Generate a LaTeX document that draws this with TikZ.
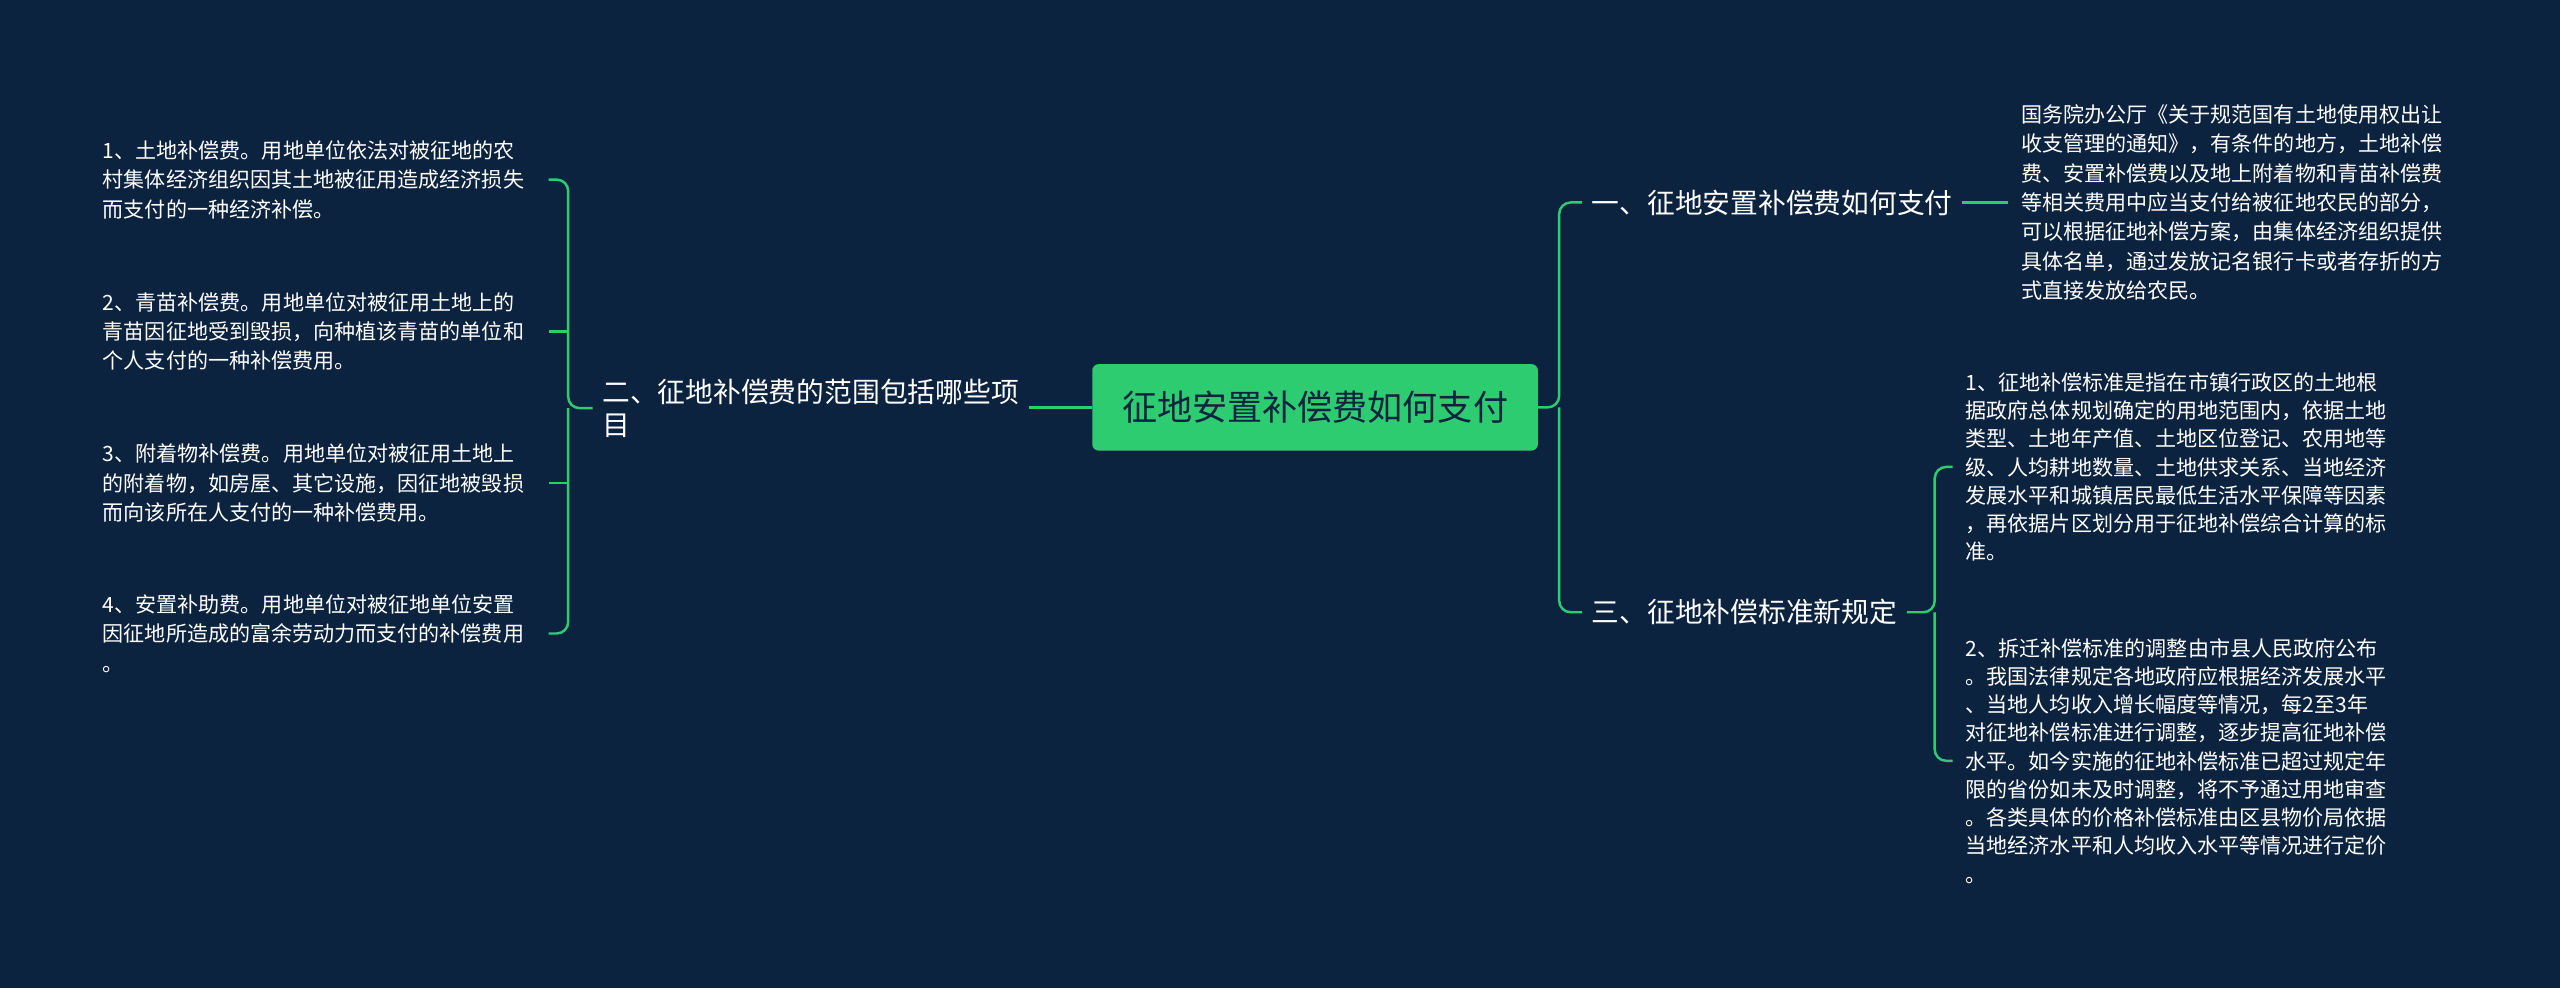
\documentclass[tikz,border=0pt]{standalone}
\usepackage{fontspec}
\setmainfont{Noto Sans CJK SC}
\begin{document}
\begin{tikzpicture}[x=1pt,y=-1pt,
  every node/.style={inner sep=0pt,outer sep=0pt},
  para/.style={text=white,align=left,font=\fontsize{12.9}{18}\selectfont},
  para3/.style={text=white,align=left,font=\fontsize{12.9}{17.3}\selectfont},
  branch/.style={text=white,align=left,inner xsep=6pt,font=\fontsize{17}{20}\selectfont}]
\definecolor{bg}{HTML}{0C2340}
\definecolor{gr}{HTML}{2ECC71}
\tikzset{link/.style={draw=gr,line width=1.5pt,rounded corners=7pt}}
\fill[bg] (0,0) rectangle (1568,605);
\useasboundingbox (0,0) rectangle (1568,605);
\node[fill=gr,rounded corners=4pt,minimum width=273,minimum height=53,text=bg,font=\fontsize{21.5}{24}\selectfont] (c) at (805.5,249.5) {征地安置补偿费如何支付};
\node[branch,anchor=west] (b1) at (969,124) {一、征地安置补偿费如何支付};
\node[branch,anchor=west] (b3) at (969,375) {三、征地补偿标准新规定};
\node[branch,anchor=west] (b2) at (363,250) {二、征地补偿费的范围包括哪些项\\目};
\node[para,anchor=west] (p1) at (1238,124) {国务院办公厅《关于规范国有土地使用权出让\\收支管理的通知》，有条件的地方，土地补偿\\费、安置补偿费以及地上附着物和青苗补偿费\\等相关费用中应当支付给被征地农民的部分，\\可以根据征地补偿方案，由集体经济组织提供\\具体名单，通过发放记名银行卡或者存折的方\\式直接发放给农民。};
\node[para3,anchor=west] (r1) at (1204,286) {1、征地补偿标准是指在市镇行政区的土地根\\据政府总体规划确定的用地范围内，依据土地\\类型、土地年产值、土地区位登记、农用地等\\级、人均耕地数量、土地供求关系、当地经济\\发展水平和城镇居民最低生活水平保障等因素\\，再依据片区划分用于征地补偿综合计算的标\\准。};
\node[para3,anchor=west] (r2) at (1204,466) {2、拆迁补偿标准的调整由市县人民政府公布\\。我国法律规定各地政府应根据经济发展水平\\、当地人均收入增长幅度等情况，每2至3年\\对征地补偿标准进行调整，逐步提高征地补偿\\水平。如今实施的征地补偿标准已超过规定年\\限的省份如未及时调整，将不予通过用地审查\\。各类具体的价格补偿标准由区县物价局依据\\当地经济水平和人均收入水平等情况进行定价\\。};
\node[para,anchor=west] (l1) at (63,110) {1、土地补偿费。用地单位依法对被征地的农\\村集体经济组织因其土地被征用造成经济损失\\而支付的一种经济补偿。};
\node[para,anchor=west] (l2) at (63,203) {2、青苗补偿费。用地单位对被征用土地上的\\青苗因征地受到毁损，向种植该青苗的单位和\\个人支付的一种补偿费用。};
\node[para,anchor=west] (l3) at (63,296) {3、附着物补偿费。用地单位对被征用土地上\\的附着物，如房屋、其它设施，因征地被毁损\\而向该所在人支付的一种补偿费用。};
\node[para,anchor=west] (l4) at (63,388) {4、安置补助费。用地单位对被征地单位安置\\因征地所造成的富余劳动力而支付的补偿费用\\。};
\coordinate (cr) at (955,249.5);
\draw[link] (c.east) -- (cr) -- (955,124) -- (b1.west);
\draw[link] (cr) -- (955,375) -- (b3.west);
\draw[link] (c.west) -- (b2.east |- c.west);
\draw[link] (b1.east) -- (1230,124);
\coordinate (rb) at (1185,375);
\draw[link] (b3.east) -- (rb) -- (1185,286) -- (1196,286);
\draw[link] (rb) -- (1185,466) -- (1196,466);
\coordinate (lb) at (348,250);
\draw[link] (b2.west) -- (lb) -- (348,110) -- (336,110);
\draw[link] (lb) -- (348,388) -- (336,388);
\draw[link] (348,203) -- (336,203);
\draw[link] (348,296) -- (336,296);
\end{tikzpicture}
\end{document}
